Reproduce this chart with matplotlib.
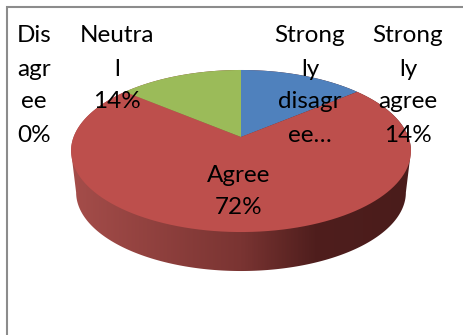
import numpy as np
import matplotlib
matplotlib.use("Agg")
from matplotlib import pyplot as plt
from matplotlib.colors import LinearSegmentedColormap
from matplotlib.patches import Polygon

# slices in drawing order, clockwise from twelve o'clock
slices = ["Strongly agree", "Agree", "Neutral", "Disagree", "Strongly disagree"]
shares = [14, 72, 14, 0, 0]
slice_colors = ["#4f81bd", "#bd4f4c", "#9bbb59", "#8064a2", "#4bacc6"]

# data labels as wrapped in their narrow boxes
label_lines = [
    ["Strong", "ly", "agree", "14%"],
    ["Agree", "72%"],
    ["Neutra", "l", "14%"],
    ["Dis", "agr", "ee", "0%"],
    ["Strong", "ly", "disagr", "ee…"],
]
label_x = [408, 239, 117, 34, 310]
label_top = [36, 175, 36, 36, 36]
line_step = 33

# pie geometry in pixels, tilted with a little perspective
cx, apex_y = 241, 137
a, b, k = 167.4, 78.6, 0.173
rim_mid_y = 151
base_scale, base_drop = 0.97, 41.4


def top_edge(theta):
    X, Y = np.sin(theta), np.cos(theta)
    d = 1 + k * Y
    return cx + a * X / d, apex_y - b * Y / d


def base_edge(theta):
    x, y = top_edge(theta)
    return cx + base_scale * (x - cx), rim_mid_y + base_scale * (y - rim_mid_y) + base_drop


fig = plt.figure(figsize=(4.63, 3.35), dpi=100)
ax = fig.add_axes([0, 0, 1, 1])
ax.axis("off")

# chart frame, only top and left show
ax.plot([6.5, 6.5, 463], [335, 6.5, 6.5], color="#8c8c8c", lw=1.5, solid_joinstyle="miter")

edges = np.radians(np.cumsum([0] + shares) * 3.6)

# side wall: outline runs along the base in front and the rim behind,
# the top faces cover everything but the visible band
side_cmap = LinearSegmentedColormap.from_list(
    "side", [(0, "#a54d4a"), (0.5, "#7a3432"), (0.72, "#4f1e1d"), (1, "#4a1c1b")]
)
t = np.linspace(0, 2 * np.pi, 721)[:-1]
tx, ty = top_edge(t)
bx, by = base_edge(t)
right, left = np.argmax(tx), np.argmin(tx)
front = np.arange(right, left + 1)
back = np.r_[left:len(t), 0:right + 1]
wall = Polygon(list(zip(bx[front], by[front])) + list(zip(tx[back], ty[back])),
               fc="none", ec="none", transform=ax.transData)
ax.add_patch(wall)
shade = ax.imshow(np.linspace(0, 1, 340).reshape(1, -1), cmap=side_cmap, aspect="auto",
                  extent=[71, 411, 272, 60], zorder=1)
shade.set_clip_path(wall)

# top faces
for i in range(len(shares)):
    if shares[i] == 0:
        continue
    t = np.linspace(edges[i], edges[i + 1], 120)
    xs, ys = top_edge(t)
    pts = [(cx, apex_y)] + list(zip(xs, ys))
    ax.add_patch(Polygon(pts, fc=slice_colors[i], ec="none", zorder=2))

for lines, x, y0 in zip(label_lines, label_x, label_top):
    for j, line in enumerate(lines):
        ax.text(x, y0 + j * line_step, line, family="Lato", fontsize=17.5,
                color="black", ha="center", va="center", zorder=3)

ax.set_xlim(0, 463)
ax.set_ylim(335, 0)

fig.savefig("out.png", dpi=100)
